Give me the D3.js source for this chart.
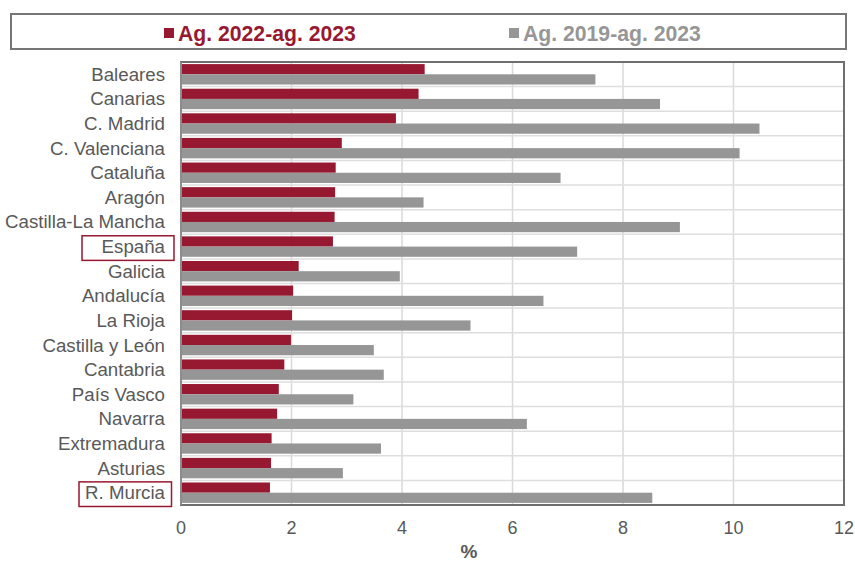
<!DOCTYPE html>
<html>
<head>
<meta charset="utf-8">
<script src="https://cdn.jsdelivr.net/npm/d3@7"></script>
<style>
  body { margin: 0; background: #fff; }
  svg { display: block; font-family: "Liberation Sans", Arial, sans-serif; }
</style>
</head>
<body>
<div id="chart"></div>
<script>
// data
var regions = ["Baleares", "Canarias", "C. Madrid", "C. Valenciana", "Cataluña", "Aragón",
  "Castilla-La Mancha", "España", "Galicia", "Andalucía", "La Rioja", "Castilla y León",
  "Cantabria", "País Vasco", "Navarra", "Extremadura", "Asturias", "R. Murcia"];
var ag2022_2023 = [4.41, 4.30, 3.89, 2.91, 2.80, 2.79, 2.78, 2.75, 2.13, 2.03, 2.01, 1.99,
  1.87, 1.77, 1.74, 1.64, 1.63, 1.61];
var ag2019_2023 = [7.50, 8.67, 10.47, 10.11, 6.87, 4.39, 9.03, 7.17, 3.96, 6.56, 5.24, 3.49,
  3.67, 3.12, 6.26, 3.62, 2.93, 8.53];
var seriesNames = ["Ag. 2022-ag. 2023", "Ag. 2019-ag. 2023"];
var xTicks = [0, 2, 4, 6, 8, 10, 12];
var highlighted = ["España", "R. Murcia"];

var w = 855, h = 561;
var red = "#971931", grey = "#969696", txt = "#595959";

var svg = d3.select("#chart").append("svg")
    .attr("width", w)
    .attr("height", h);

var x = d3.scaleLinear().domain([0, 12]).range([181, 844]);
var y = d3.scaleBand().domain(regions).range([62, 505])
    .paddingInner(0.17).paddingOuter(0.085);
var step = y.step();
var y1 = d3.scaleBand().domain([0, 1]).range([0, y.bandwidth()]);

// legend
svg.append("rect")
    .attr("x", 11).attr("y", 14)
    .attr("width", 835).attr("height", 35)
    .attr("fill", "#fff")
    .attr("stroke", "#767676")
    .attr("stroke-width", 2);

var legend = svg.append("g").selectAll("g")
    .data(seriesNames)
    .enter().append("g")
    .attr("transform", function(d, i) { return "translate(" + [164, 509][i] + ",0)"; });

legend.append("rect")
    .attr("x", 0).attr("y", 28)
    .attr("width", 10).attr("height", 10)
    .attr("fill", function(d, i) { return i ? grey : red; });

legend.append("text")
    .attr("x", 14).attr("y", 40.5)
    .attr("font-size", 21.2)
    .attr("font-weight", "bold")
    .attr("fill", function(d, i) { return i ? grey : red; })
    .text(function(d) { return d; });

// grid
var grid = svg.append("g");
grid.selectAll("line.v")
    .data(xTicks.slice(1, -1))
    .enter().append("line")
    .attr("x1", function(d) { return x(d); })
    .attr("x2", function(d) { return x(d); })
    .attr("y1", 62).attr("y2", 505)
    .attr("stroke", "#d9d9d9")
    .attr("stroke-width", 1.5);

grid.selectAll("line.h")
    .data(regions.slice(1))
    .enter().append("line")
    .attr("x1", x(0)).attr("x2", x(12))
    .attr("y1", function(d) { return y(d) - step * 0.085; })
    .attr("y2", function(d) { return y(d) - step * 0.085; })
    .attr("stroke", "#dedede")
    .attr("stroke-width", 1.5);

// bars
var rows = regions.map(function(r, i) {
  return { region: r, vals: [ag2022_2023[i], ag2019_2023[i]] };
});

var row = svg.append("g").selectAll("g")
    .data(rows)
    .enter().append("g")
    .attr("transform", function(d) { return "translate(0," + y(d.region) + ")"; });

row.selectAll("rect")
    .data(function(d) { return d.vals; })
    .enter().append("rect")
    .attr("x", x(0))
    .attr("y", function(d, i) { return y1(i); })
    .attr("width", function(d) { return x(d) - x(0); })
    .attr("height", y1.bandwidth())
    .attr("fill", function(d, i) { return i ? grey : red; });

// frame
svg.append("rect")
    .attr("x", x(0)).attr("y", 62)
    .attr("width", x(12) - x(0)).attr("height", 443)
    .attr("fill", "none")
    .attr("stroke", "#6f6f6f")
    .attr("stroke-width", 2);

svg.append("line")
    .attr("x1", x(0)).attr("x2", x(0))
    .attr("y1", 62).attr("y2", 505)
    .attr("stroke", "#8c8c8c")
    .attr("stroke-width", 2);

// category labels
svg.append("g").selectAll("text")
    .data(regions)
    .enter().append("text")
    .attr("x", 165)
    .attr("y", function(d) { return y(d) + y.bandwidth() / 2 + 6.5; })
    .attr("text-anchor", "end")
    .attr("font-size", 18.7)
    .attr("fill", txt)
    .text(function(d) { return d; });

// boxes round España and R. Murcia
svg.append("g").selectAll("rect")
    .data(highlighted)
    .enter().append("rect")
    .attr("x", function(d, i) { return [82, 79][i]; })
    .attr("y", function(d) { return y(d) - step * 0.085 + 1.5; })
    .attr("width", function(d, i) { return [92, 92.5][i]; })
    .attr("height", step)
    .attr("fill", "none")
    .attr("stroke", red)
    .attr("stroke-width", 1.5);

// x axis labels
svg.append("g").selectAll("text")
    .data(xTicks)
    .enter().append("text")
    .attr("x", function(d) { return x(d); })
    .attr("y", 534)
    .attr("text-anchor", "middle")
    .attr("font-size", 18)
    .attr("fill", txt)
    .text(function(d) { return d; });

svg.append("text")
    .attr("x", 469).attr("y", 558)
    .attr("text-anchor", "middle")
    .attr("font-size", 19)
    .attr("font-weight", "bold")
    .attr("fill", txt)
    .text("%");
</script>
</body>
</html>
